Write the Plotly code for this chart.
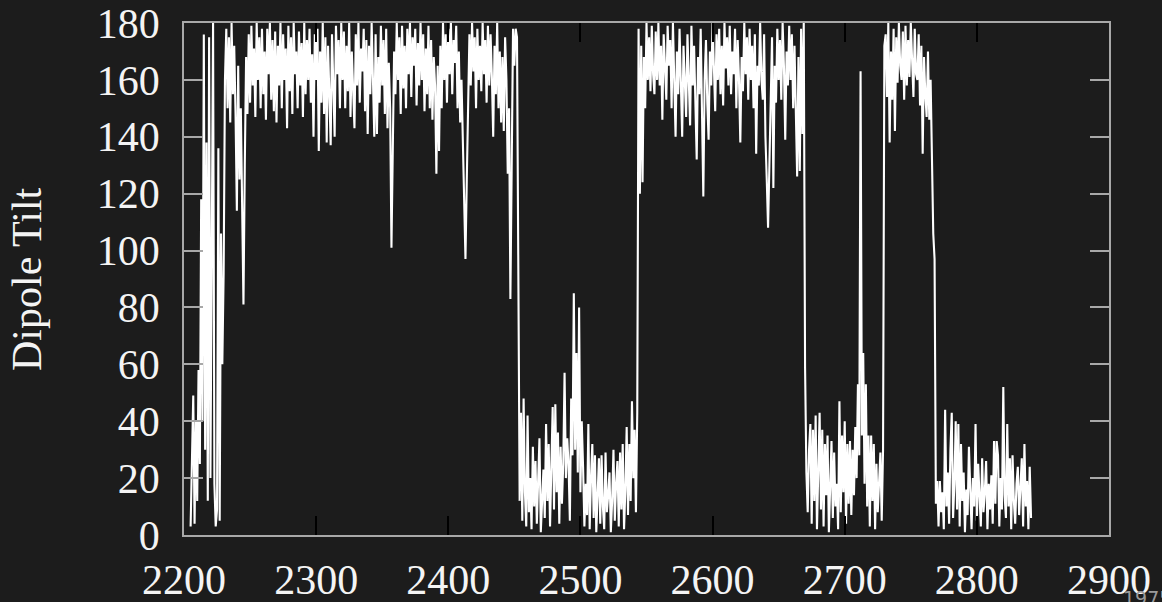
import plotly.graph_objects as go

# Sampling grid: one reading per time unit, first reading at 2205
time_start = 2205

# Dipole tilt readings (degrees), rows of ten starting at 2210
tilt = [
    3, 30, 49, 4, 40,                                   # 2205-2209
    12, 58, 25, 118, 40, 176, 30, 138, 12, 175,         # 2210
    20, 100, 180, 18, 3, 9, 136, 5, 106, 60,            # 2220
    92, 160, 178, 150, 175, 145, 180, 155, 172, 148,    # 2230
    114, 165, 125, 150, 112, 81, 130, 168, 148, 176,    # 2240
    152, 179, 158, 171, 147, 180, 160, 175, 150, 178,   # 2250
    155, 170, 146, 178, 162, 180, 153, 174, 149, 177,   # 2260
    145, 172, 158, 180, 150, 176, 160, 171, 143, 179,   # 2270
    156, 175, 148, 180, 162, 170, 150, 177, 158, 173,   # 2280
    147, 180, 155, 174, 160, 178, 152, 169, 140, 176,   # 2290
    160, 178, 135, 170, 152, 180, 148, 175, 138, 172,   # 2300
    155, 137, 176, 158, 140, 179, 162, 174, 150, 180,   # 2310
    160, 177, 150, 172, 156, 180, 147, 170, 153, 143,   # 2320
    176, 158, 180, 152, 171, 163, 178, 149, 174, 141,   # 2330
    172, 155, 180, 160, 140, 176, 141, 168, 152, 179,   # 2340
    158, 174, 148, 178, 143, 166, 150, 101, 138, 170,   # 2350
    155, 180, 160, 175, 148, 179, 157, 172, 150, 178,   # 2360
    162, 180, 154, 175, 165, 178, 151, 173, 158, 180,   # 2370
    160, 176, 149, 171, 155, 179, 150, 174, 146, 168,   # 2380
    158, 127, 165, 135, 172, 150, 180, 160, 176, 152,   # 2390
    178, 162, 180, 155, 174, 166, 179, 150, 170, 145,   # 2400
    160, 138, 120, 97, 125, 148, 176, 158, 180, 163,    # 2410
    175, 150, 178, 160, 172, 156, 180, 162, 174, 152,   # 2420
    179, 158, 176, 161, 140, 172, 155, 180, 150, 170,   # 2430
    145, 168, 142, 175, 160, 127, 150, 83, 140, 178,    # 2440
    165, 178, 175, 68, 12, 43, 5, 48, 15, 3,            # 2450
    42, 8, 20, 2, 31, 10, 26, 4, 18, 34,                # 2460
    1, 14, 23, 6, 39, 12, 32, 3, 22, 45,                # 2470
    9, 46, 15, 36, 4, 31, 11, 25, 57, 20,               # 2480
    34, 25, 5, 48, 28, 85, 30, 64, 22, 80,              # 2490
    15, 40, 24, 3, 18, 7, 39, 2, 20, 32,                # 2500
    6, 28, 1, 16, 27, 4, 28, 10, 2, 29,                 # 2510
    8, 14, 22, 1, 12, 30, 5, 18, 26, 3,                 # 2520
    29, 9, 32, 2, 16, 38, 7, 32, 12, 47,                # 2530
    20, 37, 8, 43, 178, 120, 172, 124, 168, 150,        # 2540
    180, 160, 175, 156, 179, 162, 155, 177, 160, 180,   # 2550
    158, 172, 146, 176, 162, 153, 179, 165, 174, 150,   # 2560
    180, 158, 140, 170, 155, 178, 160, 140, 172, 156,   # 2570
    147, 176, 160, 144, 179, 158, 172, 150, 132, 168,   # 2580
    155, 178, 148, 119, 160, 174, 152, 139, 170, 158,   # 2590
    180, 162, 149, 176, 160, 178, 155, 172, 151, 180,   # 2600
    164, 175, 158, 179, 155, 170, 162, 178, 150, 174,   # 2610
    160, 138, 168, 156, 180, 162, 175, 153, 178, 160,   # 2620
    172, 150, 176, 134, 165, 158, 180, 160, 153, 176,   # 2630
    140, 125, 108, 130, 160, 175, 122, 165, 152, 178,   # 2640
    160, 174, 153, 180, 165, 139, 170, 158, 179, 160,   # 2650
    176, 150, 172, 141, 126, 168, 128, 178, 141, 180,   # 2660
    59, 22, 8, 30, 39, 4, 37, 12, 42, 2,                # 2670
    25, 43, 9, 37, 3, 32, 14, 35, 1, 20,                # 2680
    33, 6, 29, 10, 18, 2, 47, 8, 35, 15,                # 2690
    40, 4, 32, 11, 33, 7, 30, 14, 38, 20,               # 2700
    53, 28, 163, 35, 64, 18, 53, 10, 35, 3,             # 2710
    35, 12, 32, 2, 25, 8, 22, 29, 5, 30,                # 2720
    172, 176, 154, 180, 138, 170, 153, 178, 142, 175,   # 2730
    159, 180, 165, 160, 177, 153, 179, 158, 174, 161,   # 2740
    180, 163, 154, 178, 162, 160, 176, 151, 172, 134,   # 2750
    168, 155, 147, 170, 146, 160, 128, 106, 97, 11,     # 2760
    19, 3, 19, 8, 15, 2, 44, 10, 22, 4,                 # 2770
    30, 43, 6, 18, 40, 9, 39, 3, 32, 12,                # 2780
    22, 1, 16, 7, 31, 14, 2, 20, 10, 39,                # 2790
    5, 25, 12, 3, 27, 8, 15, 26, 2, 18,                 # 2800
    9, 21, 4, 33, 11, 33, 28, 3, 20, 9,                 # 2810
    52, 14, 6, 39, 10, 27, 2, 28, 12, 4,                # 2820
    18, 24, 7, 15, 27, 3, 32, 10, 19, 2,                # 2830
    24, 6,                                              # 2840
]
time = [time_start + i for i in range(len(tilt))]

x_ticks = [2200, 2300, 2400, 2500, 2600, 2700, 2800, 2900]
y_ticks = [0, 20, 40, 60, 80, 100, 120, 140, 160, 180]
y_title = "Dipole Tilt"
corner_note = "1975"

BG = "#1c1c1c"
FRAME = "#a8a8a8"
FONT = "Liberation Serif"

fig = go.Figure()
fig.add_trace(go.Scatter(x=time, y=tilt, mode="lines",
                         line=dict(color="white", width=2.1),
                         showlegend=False, hoverinfo="skip"))

fig.update_layout(
    template="none",
    width=1162, height=602,
    paper_bgcolor=BG, plot_bgcolor=BG,
    margin=dict(l=184, r=53, t=23, b=67, autoexpand=False),
    font=dict(family=FONT, size=42, color="#f4f4f4"),
    showlegend=False,
)
fig.update_xaxes(
    automargin=False,
    range=[2200, 2900], tickvals=x_ticks, ticktext=[str(v) for v in x_ticks],
    ticks="inside", ticklen=19, tickwidth=1.5, tickcolor="#000000",
    showline=True, linecolor=FRAME, linewidth=1.5, mirror="ticks",
    showgrid=False, zeroline=False,
    tickfont=dict(family=FONT, size=42, color="#f4f4f4"),
    ticklabelstandoff=7,
)
fig.update_yaxes(
    automargin=False,
    range=[0, 180], tickvals=y_ticks, ticktext=[str(v) for v in y_ticks],
    ticks="inside", ticklen=19, tickwidth=1.5, tickcolor=FRAME,
    showline=True, linecolor=FRAME, linewidth=1.5, mirror="ticks",
    showgrid=False, zeroline=False,
    tickfont=dict(family=FONT, size=42, color="#f4f4f4"),
    ticklabelstandoff=14,
)
fig.add_annotation(
    text=y_title, textangle=-90, showarrow=False,
    xref="paper", yref="paper", x=(27 - 184) / 925, y=0.5,
    xanchor="center", yanchor="middle",
    font=dict(family=FONT, size=42, color="#f4f4f4"),
)
fig.add_annotation(
    text=corner_note, showarrow=False,
    xref="paper", yref="paper", x=(1121 - 184) / 925, y=(535 - 585) / 512,
    xanchor="left", yanchor="top",
    font=dict(family="DejaVu Sans", size=19, color="#9a9a9a"),
)

fig.write_html(
    "out.html",
    config={"displayModeBar": False},
    post_script="document.body.style.margin='0';document.body.style.overflow='hidden';",
)
